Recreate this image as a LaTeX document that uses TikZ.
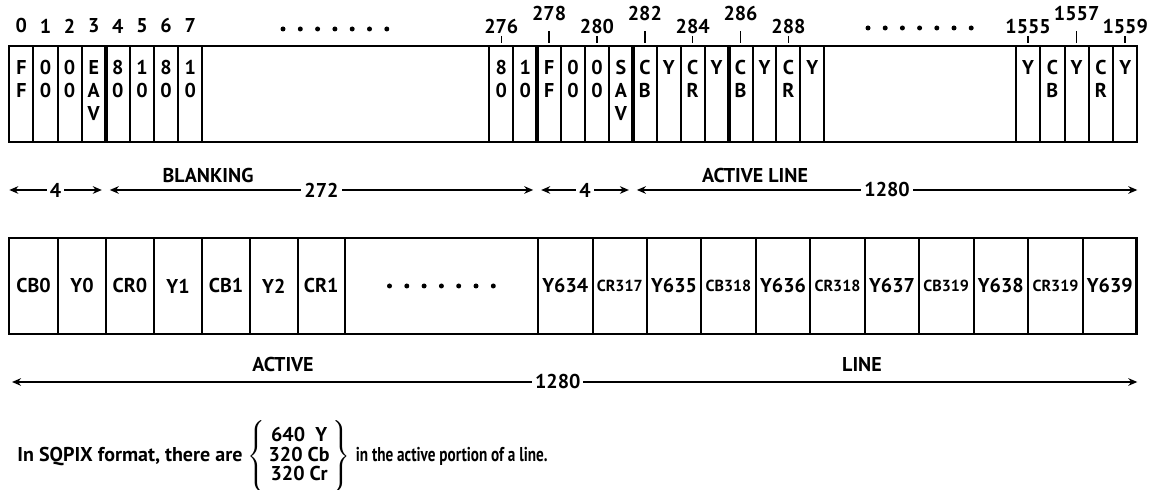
\documentclass[tikz,border=0pt]{standalone}
\usepackage{fontspec}
\setmainfont{PT Sans}
\usetikzlibrary{arrows.meta}
\newcommand\narrowid{\fontsize{8}{9}\selectfont}

\begin{document}
\begin{tikzpicture}[x=0.5pt, y=-0.5pt, every node/.style={font=\bfseries\fontsize{10}{11.5}\selectfont, inner sep=1pt}, >={Stealth[length=4.5pt,width=3.8pt]}, cell/.style={line width=1pt}, heavy/.style={line width=2pt}, frame/.style={line width=1.3pt}, tick/.style={line width=0.7pt}, letters/.style={anchor=north, align=center}, dimlbl/.style={fill=white, inner sep=1.5pt}]
	\useasboundingbox (0,0) rectangle (1151,490);
	% byte row
	\draw[cell] (9.3,46) rectangle (1137.3,142);
	\foreach \i/\t in {0/{F\\F},1/{0\\0},2/{0\\0},3/{E\\A\\V},4/{8\\0},5/{1\\0},6/{8\\0},7/{1\\0}} {
		\pgfmathsetmacro\xl{9.3+24.125*\i}
		\draw[cell] (\xl+24.125,46) -- (\xl+24.125,142);
		\node[letters] (a\i) at (\xl+12.06,58) {\t};
		\node (na\i) at (\xl+12.06,26) {\i};
	}
	\draw[cell] (489.3,46) -- (489.3,142);
	\foreach \i/\t in {276/{8\\0},277/{1\\0},278/{F\\F},279/{0\\0},280/{0\\0},281/{S\\A\\V},282/{C\\B},283/Y,284/{C\\R},285/Y,286/{C\\B},287/Y,288/{C\\R},289/Y} {
		\pgfmathsetmacro\xl{489.3+23.93*(\i-276)}
		\draw[cell] (\xl+23.93,46) -- (\xl+23.93,142);
		\node[letters] (b\i) at (\xl+11.96,58) {\t};
	}
	\foreach \i/\h/\s in {276/27/36,278/14/31.5,280/27/36,282/14/31.5,284/27/36,286/14/31.5,288/27/36} {
		\pgfmathsetmacro\xc{489.3+23.93*(\i-276)+11.96}
		\node (nb\i) at (\xc,\h) {\i};
		\draw[tick] (\xc,\s) -- (\xc,43);
	}
	\draw[cell] (1016,46) -- (1016,142);
	\foreach \i/\t in {1555/Y,1556/{C\\B},1557/Y,1558/{C\\R},1559/Y} {
		\pgfmathsetmacro\xl{1016+24.26*(\i-1555)}
		\draw[cell] (\xl+24.26,46) -- (\xl+24.26,142);
		\node[letters] (c\i) at (\xl+12.13,58) {\t};
	}
	\foreach \i/\h/\s in {1555/27/36,1557/14/31.5,1559/27/36} {
		\pgfmathsetmacro\xc{1016+24.26*(\i-1555)+12.13}
		\node (nc\i) at (\xc,\h) {\i};
		\draw[tick] (\xc,\s) -- (\xc,43);
	}
	\foreach \x in {105.8,537.2,632.9,728.6}
		\draw[heavy] (\x,46) -- (\x,142);
	\foreach \k in {0,...,6} {
		\fill (283+17.3*\k,29) circle (2.5);
		\fill (868+17.2*\k,28) circle (2.5);
	}
	% counts
	\coordinate (m0) at (9.3,190);
	\coordinate (m1) at (105.8,190);
	\coordinate (m2) at (537.2,190);
	\coordinate (m3) at (632.9,190);
	\coordinate (m4) at (1137.3,190);
	\draw[<->, cell] (m0) -- node[dimlbl] (d1) {4} ([xshift=-2pt]m1);
	\draw[<->, cell] ([xshift=2pt]m1) -- node[dimlbl] (d2) {272} ([xshift=-2pt]m2);
	\draw[<->, cell] ([xshift=2pt]m2) -- node[dimlbl] (d3) {4} ([xshift=-2pt]m3);
	\draw[<->, cell] ([xshift=2pt]m3) -- node[dimlbl] (d4) {1280} (m4);
	\node (blank) at (208,176) {BLANKING};
	\node (actl) at (755,176) {ACTIVE LINE};
	% sample row
	\foreach \xl/\xr/\t [count=\n] in {9/58/CB0,58/106/Y0,106/154/CR0,154/202/Y1,202/250/CB1,250/297.5/Y2,297.5/345/CR1,538/592.5/Y634,592.5/647/{\narrowid CR317},647/701/Y635,701/756/{\narrowid CB318},756/810/Y636,810/865/{\narrowid CR318},865/919/Y637,919/973.5/{\narrowid CB319},973.5/1028/Y638,1028/1083/{\narrowid CR319},1083/1136.5/Y639}
		\draw[cell] (\xl,238) rectangle (\xr,334) node[midway] (s\n) {\t};
	\draw[frame] (9,238) rectangle (1136.5,334);
	\foreach \k in {0,...,6}
		\fill (389.5+17.3*\k,286) circle (2.5);
	% whole line
	\coordinate (w0) at (12,382);
	\coordinate (w1) at (1137.3,382);
	\draw[<->, cell] (w0) -- node[dimlbl, pos=0.485] (dw) {1280} (w1);
	\node (act) at (283,365) {ACTIVE};
	\node (line) at (862,365) {LINE};
	\node[anchor=west] (note) at (15,458) {In SQPIX format, there are\ $\left\{\vrule height 17pt depth 17pt width 0pt\def\arraystretch{0.72}\begin{tabular}{@{\,}c@{\,}}640\ \ Y\\320 Cb\\320 Cr\end{tabular}\right\}$\ {\addfontfeatures{FakeStretch=0.76}in the active portion of a line.}};
\end{tikzpicture}
\end{document}
